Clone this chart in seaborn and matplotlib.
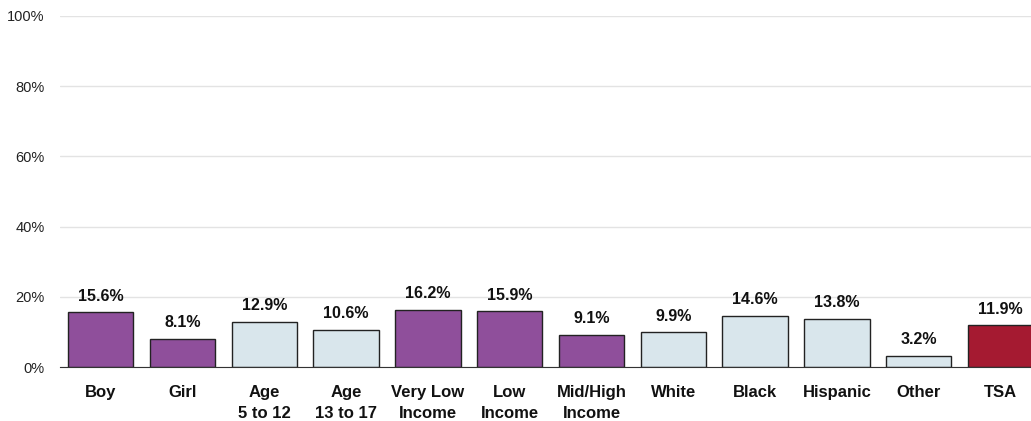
import matplotlib
matplotlib.use("Agg")
import matplotlib.pyplot as plt
import seaborn as sns
import pandas as pd

categories = ["Boy", "Girl", "Age\n5 to 12", "Age\n13 to 17", "Very Low\nIncome", "Low\nIncome",
              "Mid/High\nIncome", "White", "Black", "Hispanic", "Other", "TSA"]
values = [15.6, 8.1, 12.9, 10.6, 16.2, 15.9, 9.1, 9.9, 14.6, 13.8, 3.2, 11.9]
colors = ["#8F4F9B", "#8F4F9B", "#D9E6EC", "#D9E6EC", "#8F4F9B", "#8F4F9B", "#8F4F9B",
          "#D9E6EC", "#D9E6EC", "#D9E6EC", "#D9E6EC", "#A51A31"]
yticks = [0, 20, 40, 60, 80, 100]

sns.set_style("white")
plt.rcParams['font.family'] = ['Liberation Sans', 'DejaVu Sans']

df = pd.DataFrame({"cat": categories, "val": values})
fig = plt.figure(figsize=(10.31, 4.21), dpi=100)
ax = fig.add_axes([0.058, 0.128, 0.952, 0.834])
sns.barplot(data=df, x="cat", y="val", hue="cat", palette=colors, legend=False,
            width=0.8, edgecolor="#222222", linewidth=1.0, ax=ax, saturation=1)
ax.set_ylim(0, 100)
ax.set_xlim(-0.5, len(categories) - 0.5)
ax.set_yticks(yticks)
ax.set_yticklabels([f"{t}%" for t in yticks], fontsize=10.5, color="#222222")
ax.yaxis.grid(True, color="#e3e3e3", linewidth=1)
ax.set_axisbelow(True)
for s in ["top", "right", "left"]:
    ax.spines[s].set_visible(False)
ax.spines["bottom"].set_color("#333333")
ax.tick_params(axis="both", length=0)
ax.tick_params(axis="y", pad=11)
ax.tick_params(axis="x", pad=13)
ax.set_xlabel("")
ax.set_ylabel("")
for lbl in ax.get_xticklabels():
    lbl.set_fontweight("bold")
    lbl.set_fontsize(12)
    lbl.set_color("#111111")
    lbl.set_linespacing(1.45)
for i, v in enumerate(values):
    ax.text(i, v + 2.5, f"{v:.1f}%", ha="center", va="bottom", fontsize=11.5,
            fontweight="bold", color="#111111")
fig.savefig("out.png", dpi=100)
